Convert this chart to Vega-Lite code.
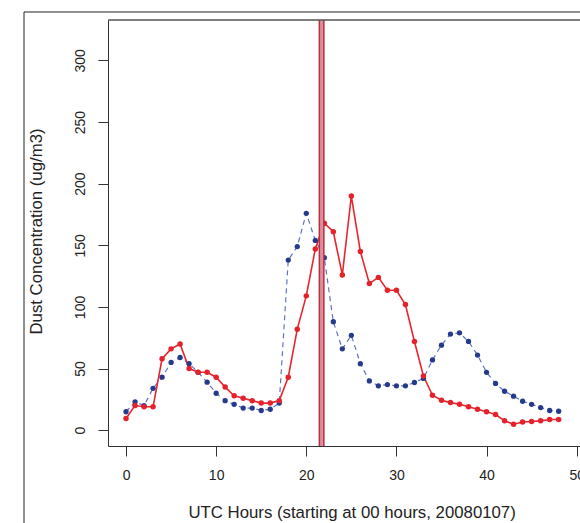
{
  "$schema": "https://vega.github.io/schema/vega-lite/v6.json",
  "autosize": "none",
  "width": 472,
  "height": 426,
  "padding": {"left": 108, "top": 20, "right": 0, "bottom": 77},
  "background": "white",
  "config": {
    "view": {"stroke": null},
    "font": "Liberation Sans",
    "axis": {"grid": false, "domainColor": "#333", "tickColor": "#333", "labelColor": "#222", "titleColor": "#222", "labelFont": "Liberation Sans", "titleFont": "Liberation Sans", "labelFontSize": 14, "titleFontSize": 16.8, "titleFontWeight": "normal", "tickSize": 10, "domainWidth": 1}
  },
  "datasets": {
    "dust": [
      {"h": 0, "v": 9.5, "s": "red"}, {"h": 1, "v": 20, "s": "red"}, {"h": 2, "v": 19, "s": "red"}, {"h": 3, "v": 19, "s": "red"},
      {"h": 4, "v": 58, "s": "red"}, {"h": 5, "v": 66, "s": "red"}, {"h": 6, "v": 70, "s": "red"}, {"h": 7, "v": 50, "s": "red"},
      {"h": 8, "v": 47, "s": "red"}, {"h": 9, "v": 47, "s": "red"}, {"h": 10, "v": 43, "s": "red"}, {"h": 11, "v": 35, "s": "red"},
      {"h": 12, "v": 28, "s": "red"}, {"h": 13, "v": 26, "s": "red"}, {"h": 14, "v": 24, "s": "red"}, {"h": 15, "v": 22, "s": "red"},
      {"h": 16, "v": 22, "s": "red"}, {"h": 17, "v": 24, "s": "red"}, {"h": 18, "v": 43, "s": "red"}, {"h": 19, "v": 82, "s": "red"},
      {"h": 20, "v": 109, "s": "red"}, {"h": 21, "v": 147, "s": "red"}, {"h": 22, "v": 168, "s": "red"}, {"h": 23, "v": 161, "s": "red"},
      {"h": 24, "v": 126, "s": "red"}, {"h": 25, "v": 190, "s": "red"}, {"h": 26, "v": 145, "s": "red"}, {"h": 27, "v": 119, "s": "red"},
      {"h": 28, "v": 124, "s": "red"}, {"h": 29, "v": 113.5, "s": "red"}, {"h": 30, "v": 113.5, "s": "red"}, {"h": 31, "v": 102, "s": "red"},
      {"h": 32, "v": 72, "s": "red"}, {"h": 33, "v": 44, "s": "red"}, {"h": 34, "v": 28.4, "s": "red"}, {"h": 35, "v": 24.3, "s": "red"},
      {"h": 36, "v": 22.4, "s": "red"}, {"h": 37, "v": 21, "s": "red"}, {"h": 38, "v": 19, "s": "red"}, {"h": 39, "v": 17, "s": "red"},
      {"h": 40, "v": 15, "s": "red"}, {"h": 41, "v": 12.7, "s": "red"}, {"h": 42, "v": 7.6, "s": "red"}, {"h": 43, "v": 4.9, "s": "red"},
      {"h": 44, "v": 6.7, "s": "red"}, {"h": 45, "v": 7.1, "s": "red"}, {"h": 46, "v": 7.6, "s": "red"}, {"h": 47, "v": 8.7, "s": "red"},
      {"h": 48, "v": 8.7, "s": "red"},
      {"h": 0, "v": 15, "s": "blue"}, {"h": 1, "v": 23, "s": "blue"}, {"h": 2, "v": 20, "s": "blue"}, {"h": 3, "v": 34, "s": "blue"},
      {"h": 4, "v": 43, "s": "blue"}, {"h": 5, "v": 55, "s": "blue"}, {"h": 6, "v": 59, "s": "blue"}, {"h": 7, "v": 54, "s": "blue"},
      {"h": 8, "v": 47, "s": "blue"}, {"h": 9, "v": 39, "s": "blue"}, {"h": 10, "v": 30, "s": "blue"}, {"h": 11, "v": 24, "s": "blue"},
      {"h": 12, "v": 21, "s": "blue"}, {"h": 13, "v": 18, "s": "blue"}, {"h": 14, "v": 18, "s": "blue"}, {"h": 15, "v": 16, "s": "blue"},
      {"h": 16, "v": 17, "s": "blue"}, {"h": 17, "v": 22, "s": "blue"}, {"h": 18, "v": 138, "s": "blue"}, {"h": 19, "v": 149, "s": "blue"},
      {"h": 20, "v": 176, "s": "blue"}, {"h": 21, "v": 154, "s": "blue"}, {"h": 22, "v": 140, "s": "blue"}, {"h": 23, "v": 88, "s": "blue"},
      {"h": 24, "v": 66, "s": "blue"}, {"h": 25, "v": 77, "s": "blue"}, {"h": 26, "v": 54, "s": "blue"}, {"h": 27, "v": 40, "s": "blue"},
      {"h": 28, "v": 36, "s": "blue"}, {"h": 29, "v": 37, "s": "blue"}, {"h": 30, "v": 36, "s": "blue"}, {"h": 31, "v": 36, "s": "blue"},
      {"h": 32, "v": 38.7, "s": "blue"}, {"h": 33, "v": 42, "s": "blue"}, {"h": 34, "v": 57, "s": "blue"}, {"h": 35, "v": 69, "s": "blue"},
      {"h": 36, "v": 78, "s": "blue"}, {"h": 37, "v": 79, "s": "blue"}, {"h": 38, "v": 72, "s": "blue"}, {"h": 39, "v": 61, "s": "blue"},
      {"h": 40, "v": 47, "s": "blue"}, {"h": 41, "v": 38, "s": "blue"}, {"h": 42, "v": 31.6, "s": "blue"}, {"h": 43, "v": 27.6, "s": "blue"},
      {"h": 44, "v": 23.5, "s": "blue"}, {"h": 45, "v": 21, "s": "blue"}, {"h": 46, "v": 18.4, "s": "blue"}, {"h": 47, "v": 16, "s": "blue"},
      {"h": 48, "v": 15.4, "s": "blue"}
    ],
    "event": [{"h": 21.7}],
    "frame": [{"x1": -11.32, "x2": 80, "y1": 339.3, "y2": -150}]
  },
  "layer": [
    {
      "data": {"name": "frame"},
      "mark": {"type": "rect", "fill": null, "stroke": "#222", "strokeWidth": 1, "clip": false},
      "encoding": {
        "x": {"field": "x1", "type": "quantitative", "scale": {"domain": [-2, 50.37], "nice": false, "zero": false},
          "title": "UTC Hours (starting at 00 hours, 20080107)",
          "axis": {"values": [0, 10, 20, 30, 40, 50], "labelPadding": 12, "titleX": 243.6, "titleY": 66, "titleBaseline": "middle", "titleAnchor": "middle"}},
        "x2": {"field": "x2"},
        "y": {"field": "y1", "type": "quantitative", "scale": {"domain": [-12.8, 332.8], "nice": false, "zero": false},
          "title": "Dust Concentration (ug/m3)",
          "axis": {"values": [0, 50, 100, 150, 200, 250, 300], "labelAngle": -90, "labelAlign": "center", "labelBaseline": "bottom", "labelPadding": 11, "titleX": -72, "titleY": 211, "titleBaseline": "middle", "titleAnchor": "middle"}},
        "y2": {"field": "y2"}
      }
    },
    {
      "data": {"name": "dust"},
      "transform": [{"filter": "datum.s === 'blue'"}],
      "mark": {"type": "line", "color": "#5f72c4", "strokeWidth": 1.2, "strokeDash": [5, 4]},
      "encoding": {
        "x": {"field": "h", "type": "quantitative", "title": "UTC Hours (starting at 00 hours, 20080107)"},
        "y": {"field": "v", "type": "quantitative", "title": "Dust Concentration (ug/m3)"}
      }
    },
    {
      "data": {"name": "dust"},
      "transform": [{"filter": "datum.s === 'red'"}],
      "mark": {"type": "line", "color": "#e8262e", "strokeWidth": 1.6},
      "encoding": {
        "x": {"field": "h", "type": "quantitative", "title": "UTC Hours (starting at 00 hours, 20080107)"},
        "y": {"field": "v", "type": "quantitative", "title": "Dust Concentration (ug/m3)"}
      }
    },
    {
      "data": {"name": "dust"},
      "transform": [{"filter": "datum.s === 'blue'"}],
      "mark": {"type": "circle", "color": "#263a8c", "opacity": 1, "size": 28},
      "encoding": {
        "x": {"field": "h", "type": "quantitative", "title": "UTC Hours (starting at 00 hours, 20080107)"},
        "y": {"field": "v", "type": "quantitative", "title": "Dust Concentration (ug/m3)"}
      }
    },
    {
      "data": {"name": "dust"},
      "transform": [{"filter": "datum.s === 'red'"}],
      "mark": {"type": "circle", "color": "#e3222b", "opacity": 1, "size": 30},
      "encoding": {
        "x": {"field": "h", "type": "quantitative", "title": "UTC Hours (starting at 00 hours, 20080107)"},
        "y": {"field": "v", "type": "quantitative", "title": "Dust Concentration (ug/m3)"}
      }
    },
    {
      "data": {"name": "event"},
      "mark": {"type": "rule", "color": "#b8303e", "strokeWidth": 6},
      "encoding": {"x": {"field": "h", "type": "quantitative", "title": "UTC Hours (starting at 00 hours, 20080107)"}}
    },
    {
      "data": {"name": "event"},
      "mark": {"type": "rule", "color": "#dc8f9c", "strokeWidth": 3},
      "encoding": {"x": {"field": "h", "type": "quantitative", "title": "UTC Hours (starting at 00 hours, 20080107)"}}
    },
    {
      "data": {"name": "event"},
      "mark": {"type": "rule", "color": "#555", "strokeWidth": 1.5},
      "encoding": {
        "x": {"datum": -2, "title": "UTC Hours (starting at 00 hours, 20080107)"},
        "x2": {"datum": 50.37},
        "y": {"datum": 332.8, "title": "Dust Concentration (ug/m3)"}
      }
    }
  ]
}
